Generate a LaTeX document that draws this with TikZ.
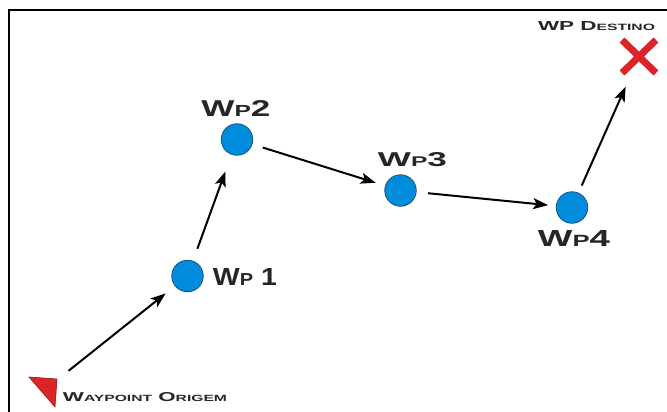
\documentclass[tikz,border=0pt]{standalone}
\usepackage{fontspec}
\setmainfont{Liberation Sans}
\usetikzlibrary{arrows.meta}
\definecolor{wpblue}{RGB}{0,140,220}
\definecolor{wpedge}{RGB}{20,80,130}
\definecolor{xred}{RGB}{220,35,40}
\definecolor{tredge}{RGB}{150,20,20}
\newcommand\smcp[1]{{\fontsize{7}{8}\selectfont #1}}
\newcommand\lbl[3]{\resizebox{#1pt}{#2pt}{\bfseries #3}}
\begin{document}
\begin{tikzpicture}[x=1pt,y=-1pt,
  wp/.style={circle,fill=wpblue,draw=wpedge,line width=0.8pt,minimum size=31.5pt,inner sep=0pt},
  arr/.style={line width=2pt,-{Stealth[length=15pt,width=11pt,inset=3.5pt]}},
  lab/.style={inner sep=0pt,anchor=center,text=black!85}]
\useasboundingbox (0,0) rectangle (667,412);
\draw[line width=2pt] (8.5,412) -- (8.5,10.5) -- (667,10.5);
% waypoints
\node[wp] (wp1) at (187.5,276) {};
\node[wp] (wp2) at (237,139.5) {};
\node[wp] (wp3) at (400.5,190.5) {};
\node[wp] (wp4) at (572,207.5) {};
% labels
\node[lab] (l1) at (245,276.5) {\lbl{64}{17}{W\smcp{P} 1}};
\node[lab] (l2) at (236,109) {\lbl{69}{16}{W\smcp{P}2}};
\node[lab] (l3) at (412.5,160) {\lbl{69}{14}{W\smcp{P}3}};
\node[lab] (l4) at (574,238) {\lbl{72}{16}{W\smcp{P}4}};
\node[lab] (dest) at (596.5,26.5) {\lbl{117}{9}{WP D\smcp{ESTINO}}};
\node[lab] (orig) at (145,397.5) {\lbl{164}{9}{W\smcp{AYPOINT} O\smcp{RIGEM}}};
% destination cross
\coordinate (xc) at (639,56.5);
\draw[xred,line width=7pt] (622,40) -- (656,73) (656,40) -- (622,73);
% origin triangle
\coordinate (tri) at (47,388);
\filldraw[fill=xred,draw=tredge,line width=0.6pt] (29,377) -- (57,379) -- (55,407) -- cycle;
% connectors
\draw[arr,shorten <=27.5pt,shorten >=28pt] (tri) -- (wp1.center);
\draw[arr,shorten <=29pt,shorten >=34pt] (wp1.center) -- (wp2.center);
\draw[arr,shorten <=27pt,shorten >=26pt] (wp2.center) -- (wp3.center);
\draw[arr,shorten <=27.6pt,shorten >=24pt] (wp3.center) -- (wp4.center);
\draw[arr,shorten <=24pt,shorten >=33pt] (wp4.center) -- (xc);
\end{tikzpicture}
\end{document}
